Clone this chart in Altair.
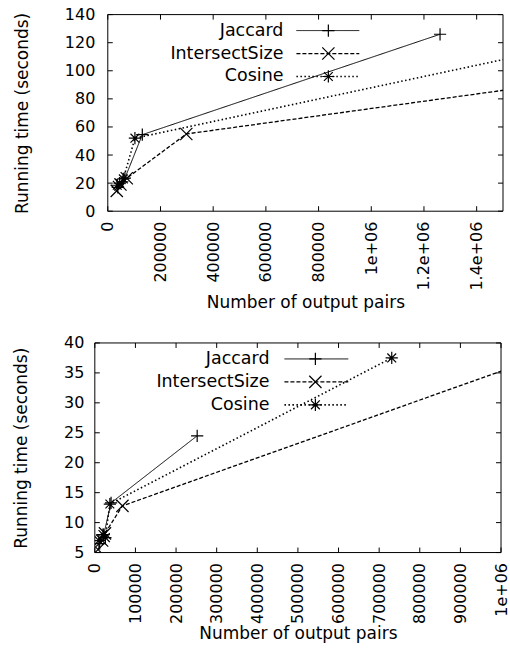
import altair as alt
import pandas as pd

series = ["Jaccard", "IntersectSize", "Cosine"]

# ---- top panel ----
top_jac_x = [38000, 55000, 65000, 131000, 1261000]
top_jac_y = [17, 21, 23.5, 54.5, 126]
top_int_x = [34000, 48000, 72000, 298000, 2000000]
top_int_y = [14.5, 19, 23.5, 55, 99]
top_cos_x = [36000, 45000, 59000, 103000, 2000000]
top_cos_y = [18.5, 20, 23, 52, 128]
top_xticks = [0, 200000, 400000, 600000, 800000, 1000000, 1200000, 1400000]
top_xlabels = ["0", "200000", "400000", "600000", "800000", "1e+06", "1.2e+06", "1.4e+06"]
top_yticks = [0, 20, 40, 60, 80, 100, 120, 140]

# ---- bottom panel ----
bot_jac_x = [12000, 22000, 40000, 252000]
bot_jac_y = [6.5, 8, 13.3, 24.5]
bot_int_x = [8000, 18000, 25000, 68000, 1100000]
bot_int_y = [5.5, 7, 8.2, 12.8, 37.7]
bot_cos_x = [10000, 20000, 26000, 37000, 731000]
bot_cos_y = [7, 8, 7.5, 13.1, 37.5]
bot_xticks = [0, 100000, 200000, 300000, 400000, 500000, 600000, 700000, 800000, 900000, 1000000]
bot_xlabels = ["0", "100000", "200000", "300000", "400000", "500000", "600000", "700000",
               "800000", "900000", "1e+06"]
bot_yticks = [5, 10, 15, 20, 25, 30, 35, 40]

FONT = "DejaVu Sans"
dash_scale = alt.Scale(domain=series, range=[[1, 0], [4, 2], [1.5, 2.5]])
width_scale = alt.Scale(domain=series, range=[1, 1.6, 1.3])
shape_scale = alt.Scale(domain=series, range=[
    "M-1,0L1,0M0,-1L0,1",
    "M-1,-1L1,1M-1,1L1,-1",
    "M-1,0L1,0M0,-1L0,1M-0.72,-0.72L0.72,0.72M-0.72,0.72L0.72,-0.72",
])


def label_expr(ticks, labels):
    expr = "datum.label"
    for t, l in zip(reversed(ticks), reversed(labels)):
        expr = f"datum.value == {t} ? '{l}' : ({expr})"
    return expr


def panel(xs, ys, xdom, xticks, xlabels, ydom, yticks, w, h, x0, ylabpad, ytitlepad,
          xtitlepad, leg_text_x, leg_line, leg_sym_x):
    """x0: left inset of the plot frame inside the group (px)."""
    rows = []
    for s, xv, yv in zip(series, xs, ys):
        for a, b in zip(xv, yv):
            rows.append({"series": s, "x": a, "y": b})
    df = pd.DataFrame(rows)
    xs_ = alt.Scale(domain=xdom, nice=False, zero=False, range=[x0, w])
    ys_ = alt.Scale(domain=ydom, nice=False, zero=False)

    xaxis = alt.Axis(values=xticks, labelExpr=label_expr(xticks, xlabels), labelAngle=270,
                     labelAlign="right", labelBaseline="middle", labelPadding=10,
                     ticks=False, grid=False, domain=False, title="Number of output pairs",
                     titlePadding=xtitlepad, labelOverlap=False, labelFlush=False,
                     titleX=(x0 + w) / 2)
    yaxis = alt.Axis(values=yticks, ticks=False, grid=False, domain=False,
                     labelPadding=ylabpad, offset=-x0,
                     title="Running time (seconds)", titlePadding=ytitlepad,
                     labelOverlap=False, labelFlush=False)
    X = alt.X("x:Q", scale=xs_, axis=xaxis)
    Y = alt.Y("y:Q", scale=ys_, axis=yaxis)

    lines = alt.Chart(df).mark_line(clip=True, color="black").encode(
        x=X, y=Y,
        strokeDash=alt.StrokeDash("series:N", scale=dash_scale, legend=None),
        strokeWidth=alt.StrokeWidth("series:N", scale=width_scale, legend=None),
        detail="series:N",
        order="x:Q",
    )
    pts = alt.Chart(df).mark_point(clip=True, filled=False, color="black", strokeWidth=1.2,
                                   opacity=1).encode(
        x=X, y=Y,
        shape=alt.Shape("series:N", scale=shape_scale, legend=None),
        size=alt.value(150),
    )
    xt = pd.DataFrame({"x": xticks})
    yt = pd.DataFrame({"y": yticks})
    tick_b = alt.Chart(xt).mark_rule(color="black").encode(
        x=X, y=alt.value(h), y2=alt.value(h - 5))
    tick_t = alt.Chart(xt).mark_rule(color="black").encode(
        x=X, y=alt.value(0), y2=alt.value(5))
    tick_l = alt.Chart(yt).mark_rule(color="black").encode(
        y=Y, x=alt.value(x0), x2=alt.value(x0 + 5))
    tick_r = alt.Chart(yt).mark_rule(color="black").encode(
        y=Y, x=alt.value(w), x2=alt.value(w - 5))

    one = pd.DataFrame({"k": [0]})
    frame = [
        alt.Chart(one).mark_rule(color="black").encode(
            x=alt.value(x0), x2=alt.value(w), y=alt.value(0)),
        alt.Chart(one).mark_rule(color="black").encode(
            x=alt.value(x0), x2=alt.value(w), y=alt.value(h)),
        alt.Chart(one).mark_rule(color="black").encode(
            x=alt.value(x0), y=alt.value(0), y2=alt.value(h)),
        alt.Chart(one).mark_rule(color="black").encode(
            x=alt.value(w), y=alt.value(0), y2=alt.value(h)),
    ]

    leg = pd.DataFrame({"series": series, "row": list(range(len(series)))})
    base = alt.Chart(leg).transform_calculate(ly="16 + 23*datum.row")
    leg_text = base.mark_text(align="right", baseline="middle", font=FONT, fontSize=17.5,
                              color="black").encode(
        x=alt.value(leg_text_x), y=alt.Y("ly:Q", scale=None), text="series:N")
    leg_rule = base.mark_rule(color="black").encode(
        x=alt.value(leg_line[0]), x2=alt.value(leg_line[1]), y=alt.Y("ly:Q", scale=None),
        strokeDash=alt.StrokeDash("series:N", scale=dash_scale, legend=None),
        strokeWidth=alt.StrokeWidth("series:N", scale=width_scale, legend=None))
    leg_pt = base.mark_point(filled=False, color="black", strokeWidth=1.2, opacity=1).encode(
        x=alt.value(leg_sym_x), y=alt.Y("ly:Q", scale=None),
        shape=alt.Shape("series:N", scale=shape_scale, legend=None),
        size=alt.value(150))

    return alt.layer(lines, pts, tick_b, tick_t, tick_l, tick_r, *frame,
                     leg_rule, leg_pt, leg_text).properties(width=w, height=h)


# common plot origin is the lower panel's left edge; upper panel is inset by 13 px
top = panel([top_jac_x, top_int_x, top_cos_x], [top_jac_y, top_int_y, top_cos_y],
            [0, 1500000], top_xticks, top_xlabels, [0, 140], top_yticks,
            409, 197, 13, 13, 33, 4, 189, (202, 265), 234)
bottom = panel([bot_jac_x, bot_int_x, bot_cos_x], [bot_jac_y, bot_int_y, bot_cos_y],
               [0, 1000000], bot_xticks, bot_xlabels, [5, 40], bot_yticks,
               407, 210, 0, 11, 33, 2, 175, (190, 254), 221)

chart = alt.vconcat(top, bottom, spacing=24).properties(
    padding={"left": 12, "top": 6, "right": 1, "bottom": 2},
    background="white",
).configure_view(strokeWidth=0).configure_axis(
    labelFont=FONT, labelFontSize=16, labelColor="black",
    titleFont=FONT, titleFontSize=17, titleFontWeight="normal", titleColor="black",
)

chart.save("out.html", embed_options={"renderer": "svg", "actions": False})
